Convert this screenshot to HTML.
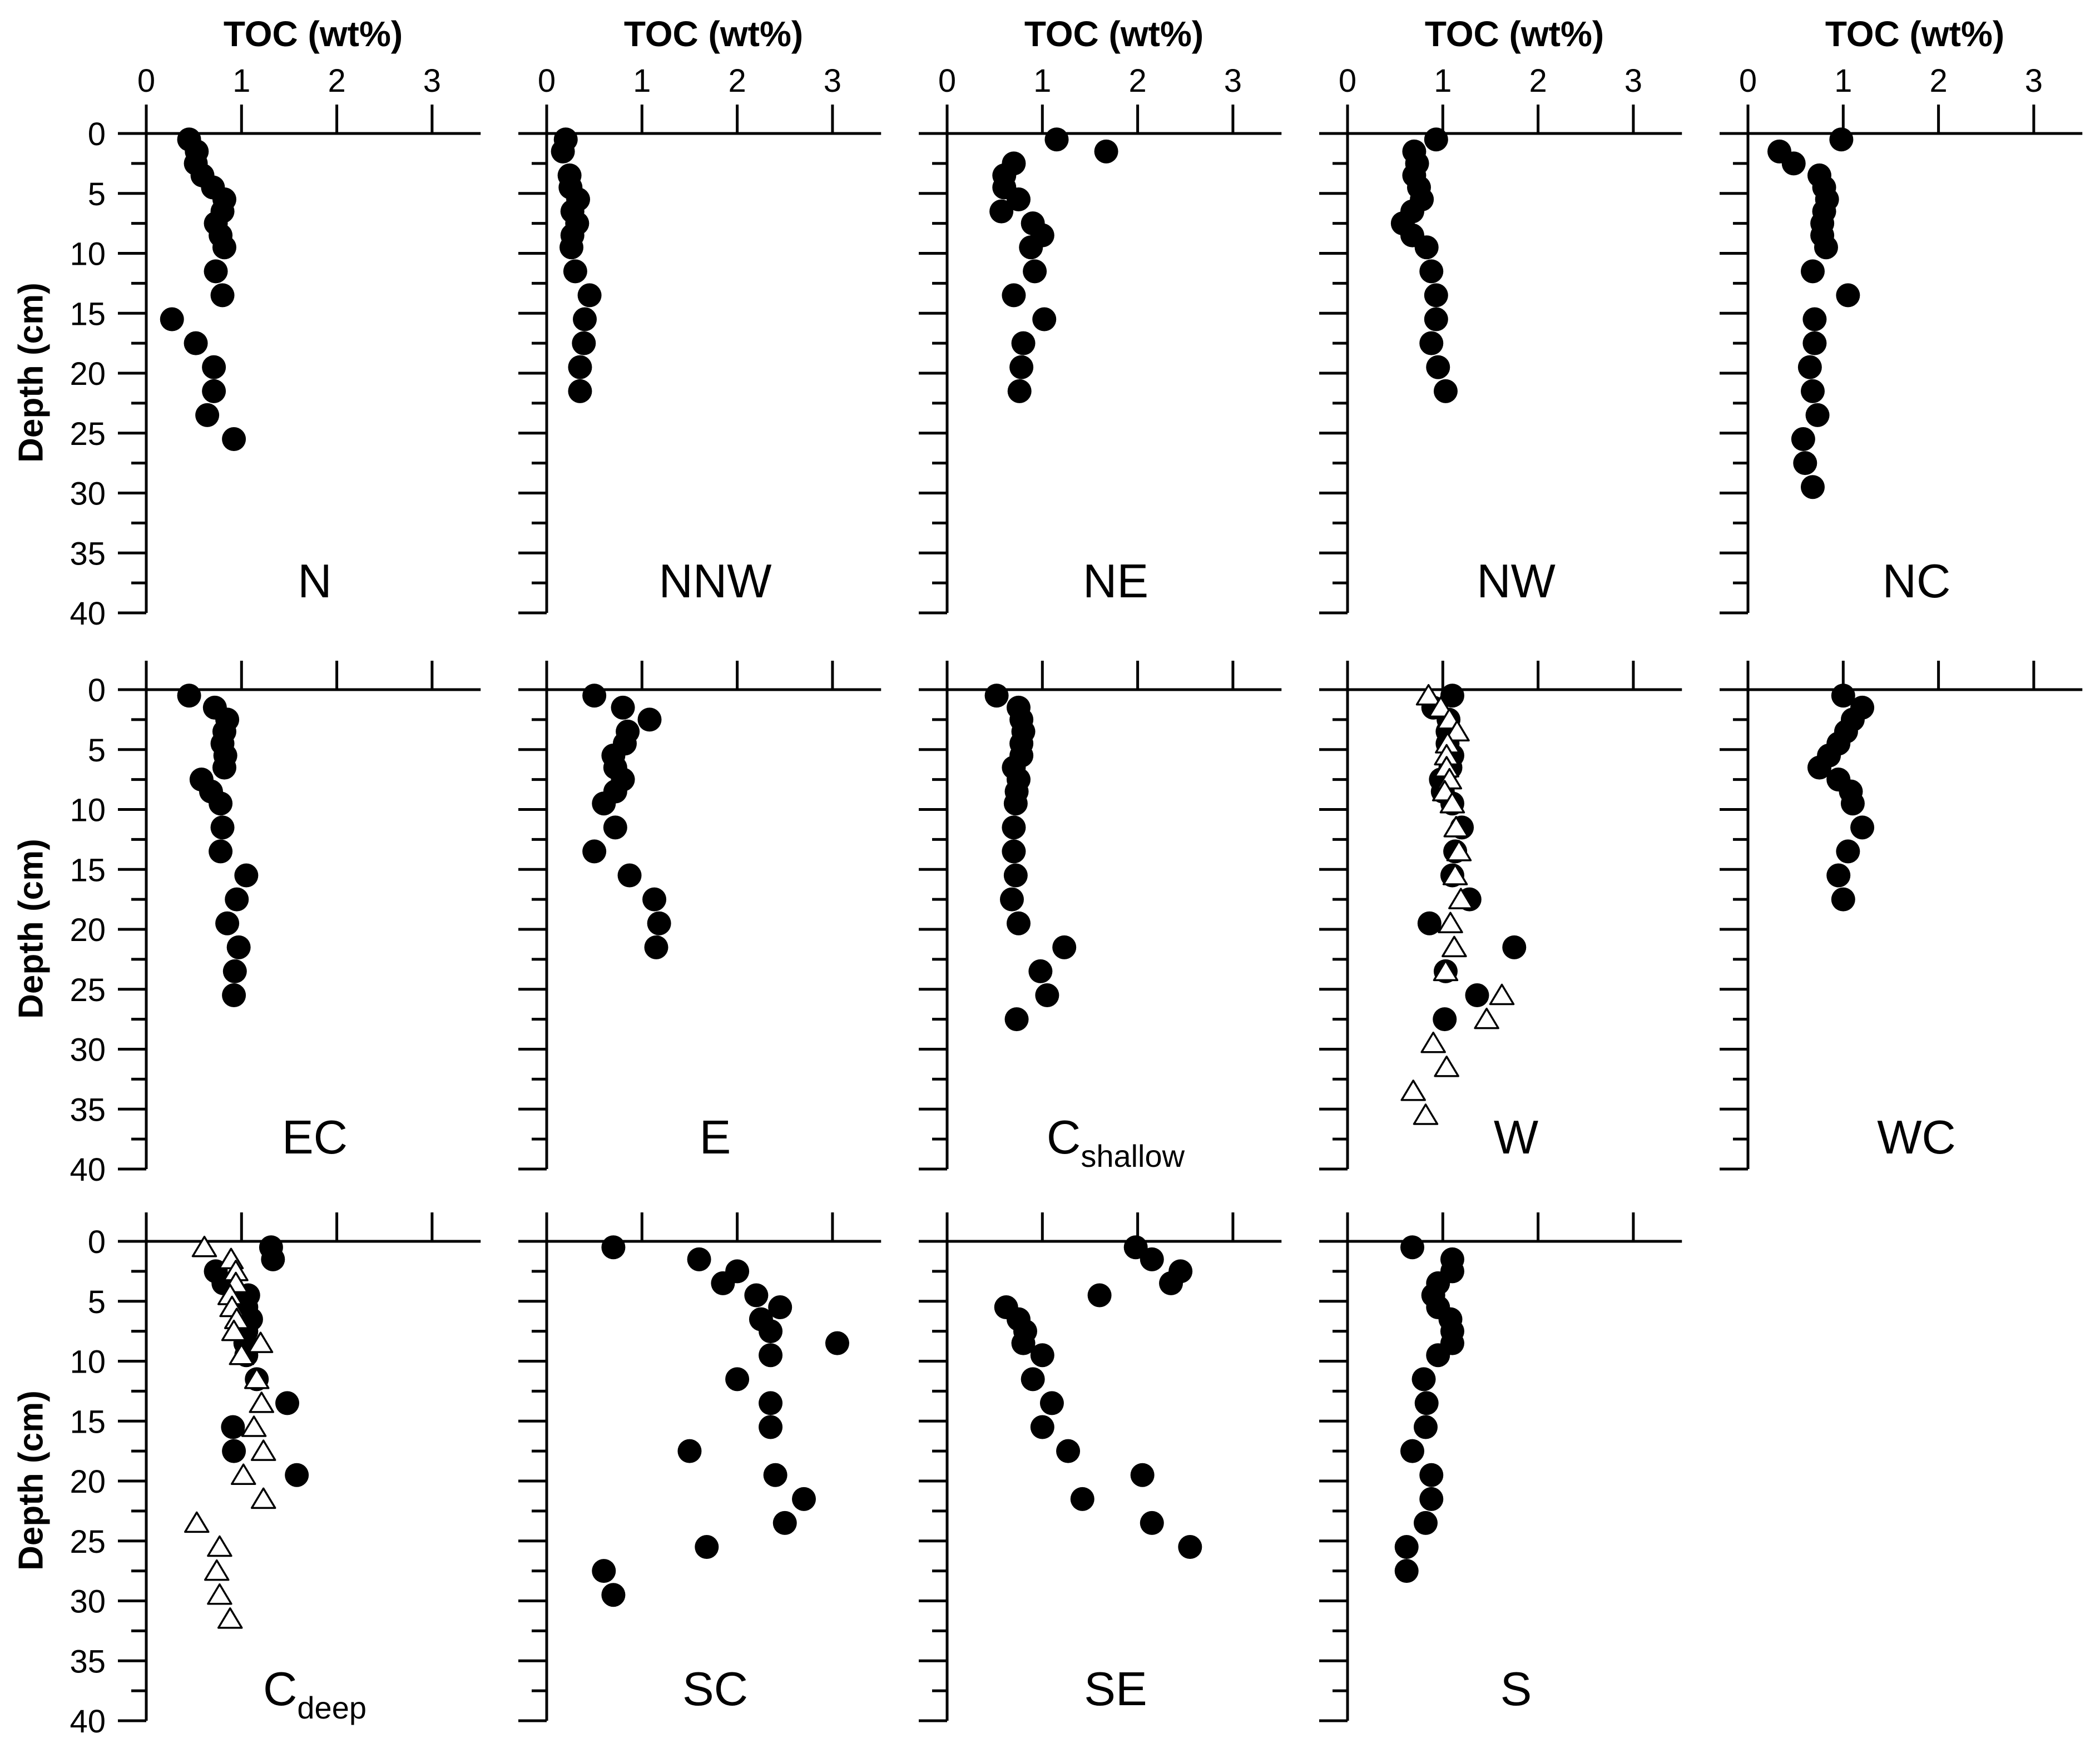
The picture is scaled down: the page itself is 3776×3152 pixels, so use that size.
<!DOCTYPE html>
<html><head><meta charset="utf-8"><style>
html,body{margin:0;padding:0;background:#fff;}
svg{display:block;font-family:"Liberation Sans",sans-serif;}
</style></head><body>
<svg id="chart" width="3776" height="3152" viewBox="0 0 3776 3152" xmlns="http://www.w3.org/2000/svg"></svg>
<script>
// ---- data (TOC wt% vs depth cm) ----
const panelNames = ["N","NNW","NE","NW","NC","EC","E","Cshallow","W","WC","Cdeep","SC","SE","S"];
const depthN = [0.5,1.5,2.5,3.5,4.5,5.5,6.5,7.5,8.5,9.5,11.5,13.5,15.5,17.5,19.5,21.5,23.5,25.5];
const tocN = [0.45,0.53,0.52,0.59,0.7,0.82,0.8,0.73,0.78,0.82,0.73,0.8,0.27,0.52,0.71,0.71,0.64,0.92];
const depthNNW = [0.5,1.5,3.5,4.5,5.5,6.5,7.5,8.5,9.5,11.5,13.5,15.5,17.5,19.5,21.5];
const tocNNW = [0.2,0.17,0.24,0.25,0.33,0.27,0.32,0.27,0.26,0.3,0.45,0.4,0.39,0.35,0.35];
const depthNE = [0.5,1.5,2.5,3.5,4.5,5.5,6.5,7.5,8.5,9.5,11.5,13.5,15.5,17.5,19.5,21.5];
const tocNE = [1.15,1.67,0.7,0.6,0.6,0.75,0.57,0.9,1.0,0.88,0.92,0.7,1.02,0.8,0.78,0.76];
const depthNW = [0.5,1.5,2.5,3.5,4.5,5.5,6.5,7.5,8.5,9.5,11.5,13.5,15.5,17.5,19.5,21.5];
const tocNW = [0.93,0.7,0.73,0.7,0.75,0.78,0.68,0.58,0.68,0.83,0.88,0.93,0.93,0.88,0.95,1.03];
const depthNC = [0.5,1.5,2.5,3.5,4.5,5.5,6.5,7.5,8.5,9.5,11.5,13.5,15.5,17.5,19.5,21.5,23.5,25.5,27.5,29.5];
const tocNC = [0.98,0.33,0.48,0.75,0.8,0.83,0.8,0.78,0.78,0.82,0.68,1.05,0.7,0.7,0.65,0.68,0.73,0.58,0.6,0.68];
const depthEC = [0.5,1.5,2.5,3.5,4.5,5.5,6.5,7.5,8.5,9.5,11.5,13.5,15.5,17.5,19.5,21.5,23.5,25.5];
const tocEC = [0.45,0.72,0.85,0.82,0.8,0.83,0.82,0.58,0.68,0.78,0.8,0.78,1.05,0.95,0.85,0.97,0.93,0.92];
const depthE = [0.5,1.5,2.5,3.5,4.5,5.5,6.5,7.5,8.5,9.5,11.5,13.5,15.5,17.5,19.5,21.5];
const tocE = [0.5,0.8,1.08,0.85,0.82,0.7,0.72,0.8,0.72,0.6,0.72,0.5,0.87,1.13,1.18,1.15];
const depthCs = [0.5,1.5,2.5,3.5,4.5,5.5,6.5,7.5,8.5,9.5,11.5,13.5,15.5,17.5,19.5,21.5,23.5,25.5,27.5];
const tocCs = [0.52,0.75,0.78,0.8,0.78,0.78,0.7,0.75,0.73,0.72,0.7,0.7,0.72,0.68,0.75,1.23,0.98,1.05,0.73];
const depthW = [0.5,1.5,2.5,3.5,4.5,5.5,6.5,7.5,8.5,9.5,11.5,13.5,15.5,17.5,19.5,21.5,23.5,25.5,27.5];
const tocW = [1.1,0.9,1.06,1.05,1.05,1.1,1.08,0.98,1.0,1.1,1.2,1.13,1.1,1.28,0.86,1.75,1.03,1.36,1.02];
const depthWtri = [0.5,1.5,2.5,3.5,4.5,5.5,6.5,7.5,8.5,9.5,11.5,13.5,15.5,17.5,19.5,21.5,23.5,25.5,27.5,29.5,31.5,33.5,35.5];
const tocWtri = [0.85,0.98,1.07,1.15,1.05,1.04,1.04,1.07,1.02,1.1,1.14,1.17,1.13,1.19,1.08,1.12,1.03,1.62,1.46,0.9,1.04,0.69,0.82];
const depthWC = [0.5,1.5,2.5,3.5,4.5,5.5,6.5,7.5,8.5,9.5,11.5,13.5,15.5,17.5];
const tocWC = [1.0,1.2,1.1,1.03,0.95,0.85,0.75,0.95,1.08,1.1,1.2,1.05,0.95,1.0];
const depthCd = [0.5,1.5,2.5,3.5,4.5,5.5,6.5,7.5,8.5,9.5,11.5,13.5,15.5,17.5,19.5];
const tocCd = [1.31,1.33,0.73,0.81,1.07,1.05,1.1,1.05,1.04,1.05,1.16,1.48,0.91,0.92,1.58];
const depthCdtri = [0.5,1.5,2.5,3.5,4.5,5.5,6.5,7.5,8.5,9.5,11.5,13.5,15.5,17.5,19.5,21.5,23.5,25.5,27.5,29.5,31.5];
const tocCdtri = [0.61,0.89,0.94,0.94,0.88,0.9,0.95,0.92,1.2,1.0,1.16,1.21,1.13,1.23,1.02,1.23,0.53,0.77,0.74,0.77,0.88];
const depthSC = [0.5,1.5,2.5,3.5,4.5,5.5,6.5,7.5,8.5,9.5,11.5,13.5,15.5,17.5,19.5,21.5,23.5,25.5,27.5,29.5];
const tocSC = [0.7,1.6,2.0,1.85,2.2,2.45,2.25,2.35,3.05,2.35,2.0,2.35,2.35,1.5,2.4,2.7,2.5,1.68,0.6,0.7];
const depthSE = [0.5,1.5,2.5,3.5,4.5,5.5,6.5,7.5,8.5,9.5,11.5,13.5,15.5,17.5,19.5,21.5,23.5,25.5];
const tocSE = [1.98,2.15,2.45,2.35,1.6,0.62,0.75,0.82,0.8,1.0,0.9,1.1,1.0,1.27,2.05,1.42,2.15,2.55];
const depthS = [0.5,1.5,2.5,3.5,4.5,5.5,6.5,7.5,8.5,9.5,11.5,13.5,15.5,17.5,19.5,21.5,23.5,25.5,27.5];
const tocS = [0.68,1.1,1.1,0.95,0.9,0.95,1.08,1.1,1.1,0.95,0.8,0.83,0.82,0.68,0.88,0.88,0.82,0.62,0.62];
const xTicks = [0,1,2,3];
const yTickLabels = [0,5,10,15,20,25,30,35,40];

const NS = "http://www.w3.org/2000/svg";
const svg = document.getElementById("chart");
const colX = [263,983,1703,2423,3143];
const rowY = [240,1240,2232];
const UNIT = 171.3, CM = 21.55, XMAX = 3.51;
function mk(tag, attrs, parent){
  const e = document.createElementNS(NS, tag);
  for (const k in attrs) e.setAttribute(k, attrs[k]);
  (parent||svg).appendChild(e);
  return e;
}
const panels = [
  {r:0,c:0,label:"N",circ:[depthN,tocN]},
  {r:0,c:1,label:"NNW",circ:[depthNNW,tocNNW]},
  {r:0,c:2,label:"NE",circ:[depthNE,tocNE]},
  {r:0,c:3,label:"NW",circ:[depthNW,tocNW]},
  {r:0,c:4,label:"NC",circ:[depthNC,tocNC]},
  {r:1,c:0,label:"EC",circ:[depthEC,tocEC]},
  {r:1,c:1,label:"E",circ:[depthE,tocE]},
  {r:1,c:2,label:"C",sub:"shallow",circ:[depthCs,tocCs]},
  {r:1,c:3,label:"W",circ:[depthW,tocW],tri:[depthWtri,tocWtri]},
  {r:1,c:4,label:"WC",circ:[depthWC,tocWC]},
  {r:2,c:0,label:"C",sub:"deep",circ:[depthCd,tocCd],tri:[depthCdtri,tocCdtri]},
  {r:2,c:1,label:"SC",circ:[depthSC,tocSC]},
  {r:2,c:2,label:"SE",circ:[depthSE,tocSE]},
  {r:2,c:3,label:"S",circ:[depthS,tocS]}
];
// depth axis titles
for (let r=0;r<3;r++){
  const t = mk("text",{x:60,y:rowY[r]+430,"font-size":62,"font-weight":"bold","text-anchor":"middle",transform:`rotate(-90 60 ${rowY[r]+430})`,"dominant-baseline":"middle"});
  
  
  t.textContent = "Depth (cm)";
  // y tick labels
  yTickLabels.forEach(v=>{
    const l = mk("text",{x:190,y:rowY[r]+v*CM+21,"font-size":58,"text-anchor":"end"});
    
    
    l.textContent = v;
  });
}
panels.forEach(p=>{
  const ox = colX[p.c], oy = rowY[p.r];
  const g = mk("g",{});
  
  
  const X = v => ox + v*UNIT, Y = d => oy + d*CM;
  // axes
  const xa = mk("line",{x1:ox-51,y1:oy,x2:X(XMAX),y2:oy,stroke:"#000","stroke-width":5},g);
  
  
  const ya = mk("line",{x1:ox,y1:oy-52,x2:ox,y2:Y(40),stroke:"#000","stroke-width":5},g);
  
  
  xTicks.forEach(v=>{
    const tk = mk("line",{x1:X(v),y1:oy-52,x2:X(v),y2:oy,stroke:"#000","stroke-width":5},g);
    
    
    if (p.r===0){
      const tl = mk("text",{x:X(v),y:165,"font-size":58,"text-anchor":"middle"},g);
      
      
      tl.textContent = v;
    }
  });
  for (let d=2.5; d<=40.01; d+=2.5){
    const major = Math.abs(d/5-Math.round(d/5))<1e-6;
    const tk = mk("line",{x1:ox-(major?51:27),y1:Y(d),x2:ox,y2:Y(d),stroke:"#000","stroke-width":5},g);
    
    
  }
  if (p.r===0){
    const tt = mk("text",{x:ox+300,y:83,"font-size":64,"font-weight":"bold","text-anchor":"middle"},g);
    
    
    tt.textContent = "TOC (wt%)";
  }
  // label
  const lb = mk("text",{x:ox+303,y:oy+834,"font-size":85,"text-anchor":"middle"},g);
  
  
  lb.appendChild(document.createTextNode(p.label));
  if (p.sub){
    const ts = document.createElementNS(NS,"tspan");
    ts.setAttribute("font-size","56");
    ts.setAttribute("dy","24");
    ts.textContent = p.sub;
    lb.appendChild(ts);
  }
  // circles
  const [cd, cv] = p.circ;
  cd.forEach((d,i)=>{
    const c = mk("circle",{cx:X(cv[i]),cy:Y(d),r:21.5,fill:"#000"},g);
    
    
  });
  if (p.tri){
    const [td, tv] = p.tri;
    td.forEach((d,i)=>{
      const x = X(tv[i]), y = Y(d);
      const t = mk("polygon",{points:`${x},${y-19} ${x-21},${y+16} ${x+21},${y+16}`,fill:"#fff",stroke:"#000","stroke-width":3.5,"stroke-linejoin":"round"},g);
      
      
    });
  }
});
</script>
</body></html>
